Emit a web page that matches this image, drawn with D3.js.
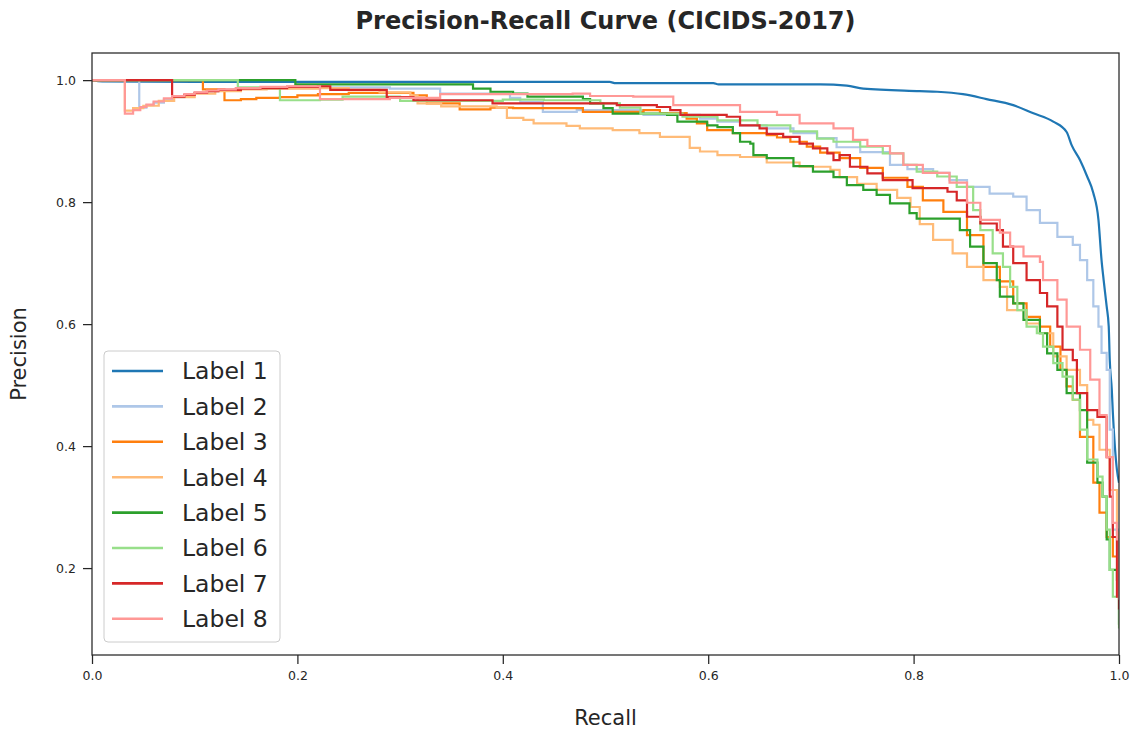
<!DOCTYPE html>
<html>
<head>
<meta charset="utf-8">
<script src="https://cdn.jsdelivr.net/npm/d3@7"></script>
<style>
  html, body { margin: 0; padding: 0; background: #fff; }
  svg { display: block; font-family: "DejaVu Sans", sans-serif; }
</style>
</head>
<body>
<svg id="chart" width="1131" height="729"></svg>
<script>
// ---------------- data (recall, precision) ----------------
const labelNames = ["Label 1", "Label 2", "Label 3", "Label 4", "Label 5", "Label 6", "Label 7", "Label 8"];
const labelColors = ["#1f77b4", "#aec7e8", "#ff7f0e", "#ffbb78", "#2ca02c", "#98df8a", "#d62728", "#ff9896"];

const label1 = [[0,1.0],[0.01,0.998],[0.1,0.997],[0.3,0.997],[0.504,0.997],[0.51,0.995],[0.605,0.995],[0.61,0.993],[0.709,0.993],[0.735,0.991],[0.751,0.986],[0.806,0.982],[0.823,0.981],[0.848,0.977],[0.871,0.969],[0.897,0.959],[0.916,0.946],[0.936,0.932],[0.949,0.915],[0.954,0.893],[0.962,0.869],[0.969,0.842],[0.975,0.815],[0.980,0.771],[0.983,0.705],[0.985,0.673],[0.988,0.629],[0.990,0.596],[0.991,0.541],[0.993,0.492],[0.994,0.455],[0.996,0.399],[0.998,0.361],[1.0,0.34]];

const label2 = [[0,1.0],[0.046,0.955],[0.053,0.959],[0.06,0.963],[0.07,0.968],[0.078,0.972],[0.09,0.976],[0.1,0.979],[0.112,0.982],[0.123,0.984],[0.145,0.986],[0.17,0.987],[0.22,0.988],[0.29,0.986],[0.339,0.978],[0.407,0.971],[0.417,0.964],[0.439,0.948],[0.472,0.951],[0.537,0.943],[0.592,0.937],[0.609,0.932],[0.631,0.926],[0.657,0.921],[0.683,0.913],[0.706,0.905],[0.725,0.89],[0.748,0.882],[0.777,0.861],[0.794,0.854],[0.819,0.848],[0.835,0.836],[0.852,0.825],[0.874,0.814],[0.897,0.809],[0.910,0.787],[0.923,0.766],[0.94,0.743],[0.955,0.73],[0.962,0.705],[0.969,0.672],[0.975,0.629],[0.980,0.596],[0.983,0.553],[0.988,0.525],[0.991,0.427],[0.994,0.263],[1.0,0.214]];

const label3 = [[0,1.0],[0.108,0.985],[0.129,0.967],[0.145,0.969],[0.16,0.971],[0.183,0.972],[0.2,0.975],[0.22,0.977],[0.25,0.979],[0.313,0.975],[0.326,0.962],[0.358,0.952],[0.388,0.955],[0.41,0.954],[0.478,0.948],[0.537,0.951],[0.553,0.946],[0.579,0.937],[0.589,0.929],[0.599,0.918],[0.624,0.913],[0.657,0.91],[0.667,0.906],[0.68,0.899],[0.696,0.891],[0.709,0.881],[0.728,0.872],[0.748,0.856],[0.77,0.84],[0.794,0.825],[0.809,0.803],[0.829,0.784],[0.852,0.746],[0.868,0.694],[0.884,0.67],[0.897,0.634],[0.91,0.612],[0.923,0.596],[0.933,0.563],[0.943,0.525],[0.949,0.498],[0.955,0.476],[0.962,0.415],[0.975,0.34],[0.981,0.291],[0.988,0.251],[0.994,0.219],[1.0,0.202]];

const label4 = [[0,1.0],[0.032,0.95],[0.04,0.954],[0.05,0.958],[0.065,0.966],[0.08,0.972],[0.1,0.978],[0.12,0.982],[0.145,0.985],[0.17,0.986],[0.22,0.987],[0.25,0.984],[0.28,0.98],[0.31,0.975],[0.317,0.962],[0.34,0.957],[0.394,0.955],[0.404,0.938],[0.42,0.935],[0.43,0.929],[0.462,0.925],[0.475,0.921],[0.507,0.918],[0.533,0.913],[0.553,0.907],[0.582,0.889],[0.592,0.883],[0.609,0.877],[0.631,0.874],[0.657,0.865],[0.689,0.858],[0.719,0.853],[0.728,0.841],[0.745,0.83],[0.764,0.82],[0.784,0.807],[0.797,0.792],[0.806,0.764],[0.819,0.738],[0.838,0.716],[0.852,0.694],[0.868,0.672],[0.884,0.661],[0.891,0.623],[0.91,0.601],[0.923,0.585],[0.936,0.547],[0.949,0.525],[0.962,0.5],[0.969,0.443],[0.975,0.435],[0.981,0.394],[0.991,0.328],[0.998,0.258],[1.0,0.214]];

const label5 = [[0,1.0],[0.198,0.993],[0.371,0.986],[0.388,0.981],[0.41,0.978],[0.424,0.973],[0.478,0.969],[0.485,0.962],[0.498,0.954],[0.507,0.945],[0.56,0.943],[0.57,0.932],[0.599,0.926],[0.609,0.923],[0.624,0.913],[0.631,0.899],[0.641,0.896],[0.644,0.877],[0.657,0.872],[0.683,0.859],[0.702,0.85],[0.722,0.841],[0.735,0.828],[0.751,0.82],[0.764,0.812],[0.777,0.798],[0.796,0.782],[0.803,0.773],[0.838,0.773],[0.845,0.754],[0.855,0.727],[0.868,0.7],[0.881,0.672],[0.884,0.645],[0.897,0.634],[0.907,0.607],[0.923,0.585],[0.93,0.552],[0.94,0.525],[0.949,0.487],[0.962,0.459],[0.969,0.373],[0.979,0.34],[0.984,0.317],[0.988,0.247],[0.991,0.197],[0.998,0.181],[1.0,0.107]];

const label6 = [[0,1.0],[0.142,0.988],[0.164,0.987],[0.183,0.967],[0.222,0.968],[0.244,0.973],[0.3,0.966],[0.39,0.966],[0.4,0.968],[0.44,0.967],[0.495,0.962],[0.514,0.955],[0.534,0.945],[0.575,0.94],[0.609,0.934],[0.648,0.926],[0.68,0.916],[0.706,0.904],[0.722,0.899],[0.748,0.891],[0.77,0.88],[0.79,0.861],[0.803,0.85],[0.823,0.842],[0.842,0.825],[0.858,0.787],[0.865,0.754],[0.877,0.716],[0.887,0.694],[0.894,0.661],[0.901,0.623],[0.91,0.596],[0.92,0.585],[0.926,0.563],[0.936,0.536],[0.945,0.514],[0.955,0.476],[0.962,0.427],[0.969,0.378],[0.979,0.35],[0.984,0.317],[0.988,0.263],[0.991,0.197],[0.994,0.153],[1.0,0.101]];

const label7 = [[0,1.0],[0.078,0.973],[0.09,0.976],[0.1,0.979],[0.112,0.982],[0.123,0.984],[0.145,0.986],[0.164,0.987],[0.19,0.989],[0.22,0.99],[0.232,0.984],[0.287,0.972],[0.313,0.967],[0.39,0.962],[0.478,0.962],[0.511,0.959],[0.55,0.956],[0.563,0.951],[0.573,0.943],[0.618,0.94],[0.631,0.926],[0.65,0.921],[0.657,0.912],[0.673,0.907],[0.689,0.896],[0.702,0.888],[0.716,0.88],[0.722,0.869],[0.728,0.877],[0.738,0.858],[0.755,0.847],[0.77,0.836],[0.799,0.823],[0.833,0.817],[0.842,0.803],[0.852,0.776],[0.865,0.765],[0.881,0.754],[0.887,0.727],[0.897,0.7],[0.91,0.672],[0.923,0.651],[0.93,0.629],[0.94,0.596],[0.945,0.558],[0.955,0.541],[0.959,0.487],[0.969,0.459],[0.979,0.448],[0.988,0.382],[0.991,0.317],[0.994,0.251],[0.998,0.153],[1.0,0.132]];

const label8 = [[0,1.0],[0.032,0.945],[0.04,0.951],[0.047,0.956],[0.053,0.96],[0.06,0.965],[0.07,0.97],[0.078,0.974],[0.09,0.977],[0.1,0.98],[0.112,0.983],[0.123,0.985],[0.14,0.987],[0.164,0.989],[0.19,0.99],[0.217,0.99],[0.222,0.969],[0.29,0.971],[0.339,0.977],[0.468,0.978],[0.485,0.974],[0.527,0.973],[0.566,0.959],[0.599,0.959],[0.631,0.948],[0.667,0.943],[0.689,0.929],[0.722,0.921],[0.741,0.902],[0.755,0.892],[0.777,0.88],[0.79,0.861],[0.809,0.848],[0.835,0.832],[0.852,0.799],[0.865,0.771],[0.884,0.75],[0.894,0.727],[0.907,0.711],[0.923,0.702],[0.926,0.672],[0.94,0.64],[0.949,0.596],[0.962,0.558],[0.972,0.509],[0.981,0.451],[0.988,0.382],[0.994,0.274],[0.998,0.247],[1.0,0.148]];

const seriesData = [label1, label2, label3, label4, label5, label6, label7, label8];
const xTickValues = [0.0, 0.2, 0.4, 0.6, 0.8, 1.0];
const yTickValues = [0.2, 0.4, 0.6, 0.8, 1.0];
const titleText = "Precision-Recall Curve (CICIDS-2017)";
const xLabelText = "Recall";
const yLabelText = "Precision";

// ---------------- layout ----------------
const W = 1131, H = 729;
const margin = { left: 92, right: 12, top: 53, bottom: 74 };
const iw = W - margin.left - margin.right;
const ih = H - margin.top - margin.bottom;
const ink = "#262626";

const svg = d3.select("#chart");
const g = svg.append("g").attr("transform", `translate(${margin.left},${margin.top})`);

const x = d3.scaleLinear().domain([0, 1]).range([0, iw]);
const y = d3.scaleLinear().domain([0.0575, 1.0445]).range([ih, 0]);

svg.append("defs").append("clipPath").attr("id", "clip")
  .append("rect").attr("x", 0).attr("y", 0).attr("width", iw).attr("height", ih);

const lineStep = d3.line().x(d => x(d[0])).y(d => y(d[1])).curve(d3.curveStepAfter);
const lineSmooth = d3.line().x(d => x(d[0])).y(d => y(d[1])).curve(d3.curveMonotoneX);

const plot = g.append("g").attr("clip-path", "url(#clip)");
seriesData.forEach((s, i) => {
  plot.append("path")
    .datum(s)
    .attr("fill", "none")
    .attr("stroke", labelColors[i])
    .attr("stroke-width", 2.2)
    .attr("stroke-linejoin", "miter")
    .attr("d", i === 0 ? lineSmooth : lineStep);
});

const xAxis = d3.axisBottom(x).tickValues(xTickValues).tickFormat(d3.format(".1f")).tickSize(9).tickPadding(7);
const yAxis = d3.axisLeft(y).tickValues(yTickValues).tickFormat(d3.format(".1f")).tickSize(9).tickPadding(7);

const gx = g.append("g").attr("transform", `translate(0,${ih})`).call(xAxis);
const gy = g.append("g").call(yAxis);
[gx, gy].forEach(a => {
  a.select(".domain").remove();
  a.selectAll(".tick line").attr("stroke", ink).attr("stroke-width", 1.25);
  a.selectAll(".tick text").attr("fill", ink).style("font-size", "12.5px").style("font-family", "DejaVu Sans");
});

g.append("rect").attr("x", 0).attr("y", 0).attr("width", iw).attr("height", ih)
  .attr("fill", "none").attr("stroke", ink).attr("stroke-width", 1.25);

svg.append("text").attr("x", margin.left + iw / 2).attr("y", 29)
  .attr("text-anchor", "middle").attr("fill", ink)
  .style("font-size", "24px").style("font-weight", "bold")
  .text(titleText);

svg.append("text").attr("x", margin.left + iw / 2).attr("y", 725)
  .attr("text-anchor", "middle").attr("fill", ink)
  .style("font-size", "21px")
  .text(xLabelText);

svg.append("text").attr("transform", `translate(26,${margin.top + ih / 2}) rotate(-90)`)
  .attr("text-anchor", "middle").attr("fill", ink)
  .style("font-size", "21px")
  .text(yLabelText);

const lg = svg.append("g").attr("transform", "translate(104,351)");
lg.append("rect").attr("x", 0).attr("y", 0).attr("width", 176).attr("height", 291)
  .attr("rx", 4).attr("ry", 4)
  .attr("fill", "white").attr("fill-opacity", 0.8)
  .attr("stroke", "#cccccc").attr("stroke-width", 1);
labelNames.forEach((name, i) => {
  const cy = 20 + i * 35.4;
  lg.append("line").attr("x1", 8).attr("x2", 59).attr("y1", cy).attr("y2", cy)
    .attr("stroke", labelColors[i]).attr("stroke-width", 2.6);
  lg.append("text").attr("x", 78).attr("y", cy).attr("dy", "0.36em")
    .attr("fill", ink).style("font-size", "23.5px")
    .text(name);
});
</script>
</body>
</html>
